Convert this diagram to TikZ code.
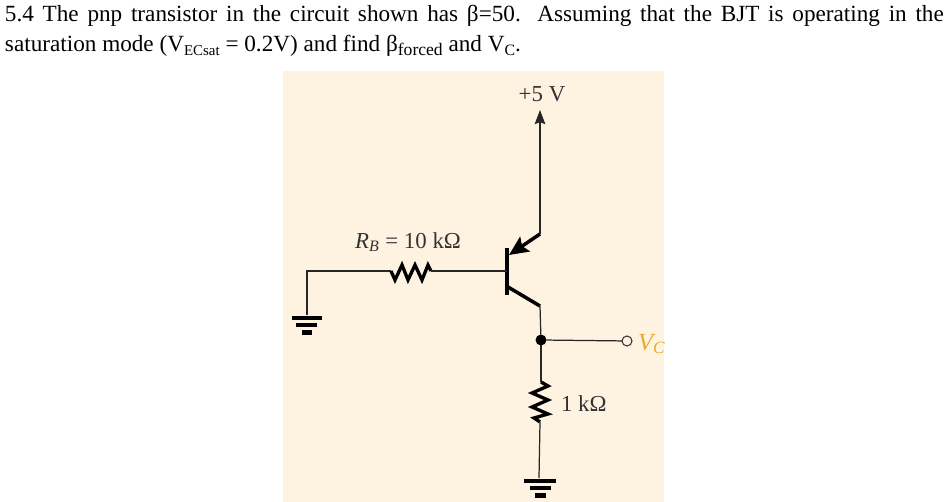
\documentclass[tikz,border=0pt]{standalone}
\usepackage{fontspec}
\usetikzlibrary{arrows.meta}
\setmainfont{Liberation Serif}
\definecolor{panelbg}{HTML}{FEF3E1}
\definecolor{vcol}{HTML}{EBA92E}
\newcommand{\lowsub}[2]{\raisebox{-0.35ex}{\fontsize{#1}{10}\selectfont #2}}
\begin{document}
\begin{tikzpicture}[
    x=0.02cm, y=-0.02cm,
    every node/.style={inner sep=0pt, outer sep=0pt},
    wire/.style={line width=0.7pt, black!85},
    lead/.style={line width=2pt, black},
    zig/.style={line width=1.9pt, black, line join=miter},
    bar/.style={line width=2.8pt, black},
    label/.style={font=\fontsize{13}{14}\selectfont, text=black!80},
    junction/.style={circle, fill=black, minimum size=0.22cm},
    terminal/.style={circle, draw=black!80, line width=0.6pt, minimum size=0.2cm}
]
\useasboundingbox (0,0) rectangle (948,502);

% Question
\node[text width=18.78cm, align=justify, anchor=north west, font=\fontsize{13.2}{17}\selectfont] (question) at (5,5.5)
    {5.4 The pnp transistor in the circuit shown has β=50. Assuming that the BJT is operating in the\linebreak saturation mode (V\lowsub{8.5}{ECsat} = 0.2V) and find β\lowsub{10}{forced} and V\lowsub{9}{C}.};

\fill[panelbg] (283,71) rectangle (664,502);

% Supply and transistor
\node[label] (vcc) at (542,94) {+5 V};
\coordinate (top) at (540,110);
\coordinate (emit) at (540,234);
\coordinate (coll) at (540,306);
\coordinate (basein) at (507,271);
\coordinate (barup) at (507,248);
\coordinate (bardown) at (507,295);
\coordinate (emitbase) at (509,255);
\coordinate (collbase) at (508,287);
\draw[wire, -{Stealth[length=8pt, width=6pt, inset=1pt]}] (emit) -- (top);
\draw[lead] (barup) -- (bardown);
\draw[lead, -{Stealth[length=11pt, width=10pt, inset=2pt]}] (emit) -- (emitbase);
\draw[lead] (collbase) -- (coll);

% Base side
\coordinate (gleft) at (307,315);
\coordinate (corner) at (307,271);
\coordinate (rbin) at (391,271);
\coordinate (rbout) at (431,271);
\node[label] (rblabel) at (408,242) {$\mathit{R_B}$ = 10 kΩ};
\draw[wire] (gleft) -- (corner) -- (rbin);
\draw[zig] (rbin) -- (395,280) -- (402,265) -- (408,280) -- (415,265) -- (422,280) -- (428,265) -- (rbout);
\draw[wire] (rbout) -- (basein);
\draw[bar] (292,318) -- (322,318);
\draw[bar] (296,325) -- (317,325);
\draw[bar] (302,332.5) -- (312,332.5);

% Collector side
\node[junction] (dot) at (541,340) {};
\node[terminal] (vcterm) at (627,341) {};
\node[label, font=\fontsize{14}{16}\selectfont, text=vcol, anchor=west] (vclabel) at (638,344) {$\mathit{V_C}$};
\coordinate (rcin) at (541,382);
\coordinate (rcout) at (540,422);
\coordinate (gright) at (539,478);
\draw[wire] (coll) -- (dot);
\draw[wire] (dot) -- (vcterm);
\draw[wire] (dot) -- (rcin);
\draw[zig] (rcin) -- (548,386) -- (532,393) -- (548,400) -- (532,407) -- (548,414) -- (534,418) -- (rcout);
\draw[wire] (rcout) -- (gright);
\node[label, anchor=west] (rclabel) at (561,404) {1 kΩ};
\draw[bar] (524,481) -- (556,481);
\draw[bar] (530,488) -- (551,488);
\draw[bar] (535,495.5) -- (546,495.5);
\end{tikzpicture}
\end{document}
